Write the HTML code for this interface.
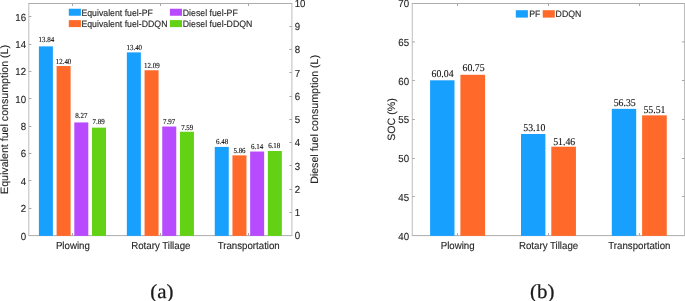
<!DOCTYPE html>
<html><head><meta charset="utf-8"><title>Figure</title>
<style>
html,body{margin:0;padding:0;background:#fff;}
body{width:685px;height:301px;overflow:hidden;font-family:"Liberation Sans",sans-serif;}
svg{display:block;text-rendering:geometricPrecision;will-change:transform;}
</style></head><body>
<svg width="685" height="301" viewBox="0 0 685 301">
<rect width="685" height="301" fill="#ffffff"/>
<path d="M28.3 3.5H292.4M28.3 235.6H292.4" fill="none" stroke="#adadad" stroke-width="1.0"/>
<path d="M28.8 3.5V235.6M291.9 3.5V235.6" fill="none" stroke="#bcbcbc" stroke-width="1.0"/>
<path d="M72.5 235.6v-2.6M72.5 3.5v2.6M160.5 235.6v-2.6M160.5 3.5v2.6M248.5 235.6v-2.6M248.5 3.5v2.6M28.8 208.5h2.6M28.8 180.5h2.6M28.8 153.5h2.6M28.8 126.5h2.6M28.8 98.5h2.6M28.8 71.5h2.6M28.8 44.5h2.6M28.8 16.5h2.6M291.9 212.5h-2.6M291.9 189.5h-2.6M291.9 165.5h-2.6M291.9 142.5h-2.6M291.9 119.5h-2.6M291.9 96.5h-2.6M291.9 72.5h-2.6M291.9 49.5h-2.6M291.9 26.5h-2.6" fill="none" stroke="#a8a8a8" stroke-width="1.0"/>
<rect x="38.90" y="46.36" width="14.00" height="189.54" fill="#18a0ff"/>
<rect x="56.60" y="66.03" width="14.00" height="169.87" fill="#ff6a2a"/>
<rect x="74.30" y="122.44" width="14.00" height="113.46" fill="#b84aff"/>
<rect x="92.00" y="127.63" width="14.00" height="108.27" fill="#64d214"/>
<rect x="126.85" y="52.37" width="14.00" height="183.53" fill="#18a0ff"/>
<rect x="144.55" y="70.26" width="14.00" height="165.64" fill="#ff6a2a"/>
<rect x="162.25" y="126.54" width="14.00" height="109.36" fill="#b84aff"/>
<rect x="179.95" y="131.73" width="14.00" height="104.17" fill="#64d214"/>
<rect x="214.75" y="146.89" width="14.00" height="89.01" fill="#18a0ff"/>
<rect x="232.45" y="155.36" width="14.00" height="80.54" fill="#ff6a2a"/>
<rect x="250.15" y="151.53" width="14.00" height="84.37" fill="#b84aff"/>
<rect x="267.85" y="150.99" width="14.00" height="84.91" fill="#64d214"/>
<text transform="translate(46.3 41.70) scale(1 1.1)" font-family="Liberation Serif, serif" font-size="6.95" text-anchor="middle" fill="#111111" stroke="#111111" stroke-width="0.12">13.84</text>
<text transform="translate(63.5 63.90) scale(1 1.1)" font-family="Liberation Serif, serif" font-size="6.95" text-anchor="middle" fill="#111111" stroke="#111111" stroke-width="0.12">12.40</text>
<text transform="translate(81.4 118.40) scale(1 1.1)" font-family="Liberation Serif, serif" font-size="6.95" text-anchor="middle" fill="#111111" stroke="#111111" stroke-width="0.12">8.27</text>
<text transform="translate(98.6 124.10) scale(1 1.1)" font-family="Liberation Serif, serif" font-size="6.95" text-anchor="middle" fill="#111111" stroke="#111111" stroke-width="0.12">7.89</text>
<text transform="translate(134.25 49.90) scale(1 1.1)" font-family="Liberation Serif, serif" font-size="6.95" text-anchor="middle" fill="#111111" stroke="#111111" stroke-width="0.12">13.40</text>
<text transform="translate(151.8 67.90) scale(1 1.1)" font-family="Liberation Serif, serif" font-size="6.95" text-anchor="middle" fill="#111111" stroke="#111111" stroke-width="0.12">12.09</text>
<text transform="translate(169.1 124.10) scale(1 1.1)" font-family="Liberation Serif, serif" font-size="6.95" text-anchor="middle" fill="#111111" stroke="#111111" stroke-width="0.12">7.97</text>
<text transform="translate(187.2 130.00) scale(1 1.1)" font-family="Liberation Serif, serif" font-size="6.95" text-anchor="middle" fill="#111111" stroke="#111111" stroke-width="0.12">7.59</text>
<text transform="translate(222.15 144.00) scale(1 1.1)" font-family="Liberation Serif, serif" font-size="6.95" text-anchor="middle" fill="#111111" stroke="#111111" stroke-width="0.12">6.48</text>
<text transform="translate(239.5 152.80) scale(1 1.1)" font-family="Liberation Serif, serif" font-size="6.95" text-anchor="middle" fill="#111111" stroke="#111111" stroke-width="0.12">5.86</text>
<text transform="translate(257.1 149.00) scale(1 1.1)" font-family="Liberation Serif, serif" font-size="6.95" text-anchor="middle" fill="#111111" stroke="#111111" stroke-width="0.12">6.14</text>
<text transform="translate(274.2 148.30) scale(1 1.1)" font-family="Liberation Serif, serif" font-size="6.95" text-anchor="middle" fill="#111111" stroke="#111111" stroke-width="0.12">6.18</text>
<text transform="translate(26.05 239.85) scale(1 1.055)" font-family="Liberation Sans, sans-serif" stroke="#262626" stroke-width="0.12" font-size="9.7" text-anchor="end" fill="#262626">0</text>
<text transform="translate(26.05 211.93) scale(1 1.055)" font-family="Liberation Sans, sans-serif" stroke="#262626" stroke-width="0.12" font-size="9.7" text-anchor="end" fill="#262626">2</text>
<text transform="translate(26.05 184.61) scale(1 1.055)" font-family="Liberation Sans, sans-serif" stroke="#262626" stroke-width="0.12" font-size="9.7" text-anchor="end" fill="#262626">4</text>
<text transform="translate(26.05 157.30) scale(1 1.055)" font-family="Liberation Sans, sans-serif" stroke="#262626" stroke-width="0.12" font-size="9.7" text-anchor="end" fill="#262626">6</text>
<text transform="translate(26.05 129.98) scale(1 1.055)" font-family="Liberation Sans, sans-serif" stroke="#262626" stroke-width="0.12" font-size="9.7" text-anchor="end" fill="#262626">8</text>
<text transform="translate(26.05 102.66) scale(1 1.055)" font-family="Liberation Sans, sans-serif" stroke="#262626" stroke-width="0.12" font-size="9.7" text-anchor="end" fill="#262626">10</text>
<text transform="translate(26.05 75.34) scale(1 1.055)" font-family="Liberation Sans, sans-serif" stroke="#262626" stroke-width="0.12" font-size="9.7" text-anchor="end" fill="#262626">12</text>
<text transform="translate(26.05 48.03) scale(1 1.055)" font-family="Liberation Sans, sans-serif" stroke="#262626" stroke-width="0.12" font-size="9.7" text-anchor="end" fill="#262626">14</text>
<text transform="translate(26.05 20.71) scale(1 1.055)" font-family="Liberation Sans, sans-serif" stroke="#262626" stroke-width="0.12" font-size="9.7" text-anchor="end" fill="#262626">16</text>
<text transform="translate(294.7 239.45) scale(1 1.055)" font-family="Liberation Sans, sans-serif" stroke="#262626" stroke-width="0.12" font-size="9.7" fill="#262626">0</text>
<text transform="translate(294.7 216.23) scale(1 1.055)" font-family="Liberation Sans, sans-serif" stroke="#262626" stroke-width="0.12" font-size="9.7" fill="#262626">1</text>
<text transform="translate(294.7 193.01) scale(1 1.055)" font-family="Liberation Sans, sans-serif" stroke="#262626" stroke-width="0.12" font-size="9.7" fill="#262626">2</text>
<text transform="translate(294.7 169.79) scale(1 1.055)" font-family="Liberation Sans, sans-serif" stroke="#262626" stroke-width="0.12" font-size="9.7" fill="#262626">3</text>
<text transform="translate(294.7 146.42) scale(1 1.055)" font-family="Liberation Sans, sans-serif" stroke="#262626" stroke-width="0.12" font-size="9.7" fill="#262626">4</text>
<text transform="translate(294.7 123.20) scale(1 1.055)" font-family="Liberation Sans, sans-serif" stroke="#262626" stroke-width="0.12" font-size="9.7" fill="#262626">5</text>
<text transform="translate(294.7 99.98) scale(1 1.055)" font-family="Liberation Sans, sans-serif" stroke="#262626" stroke-width="0.12" font-size="9.7" fill="#262626">6</text>
<text transform="translate(294.7 76.56) scale(1 1.055)" font-family="Liberation Sans, sans-serif" stroke="#262626" stroke-width="0.12" font-size="9.7" fill="#262626">7</text>
<text transform="translate(294.7 53.24) scale(1 1.055)" font-family="Liberation Sans, sans-serif" stroke="#262626" stroke-width="0.12" font-size="9.7" fill="#262626">8</text>
<text transform="translate(294.7 30.02) scale(1 1.055)" font-family="Liberation Sans, sans-serif" stroke="#262626" stroke-width="0.12" font-size="9.7" fill="#262626">9</text>
<text transform="translate(294.7 6.80) scale(1 1.055)" font-family="Liberation Sans, sans-serif" stroke="#262626" stroke-width="0.12" font-size="9.7" fill="#262626">10</text>
<text transform="translate(72.85000000000001 248.6) scale(1 1.055)" font-family="Liberation Sans, sans-serif" stroke="#262626" stroke-width="0.12" font-size="9.7" text-anchor="middle" fill="#262626">Plowing</text>
<text transform="translate(160.8 248.6) scale(1 1.055)" font-family="Liberation Sans, sans-serif" stroke="#262626" stroke-width="0.12" font-size="9.7" text-anchor="middle" fill="#262626">Rotary Tillage</text>
<text transform="translate(248.70000000000002 248.6) scale(1 1.055)" font-family="Liberation Sans, sans-serif" stroke="#262626" stroke-width="0.12" font-size="9.7" text-anchor="middle" fill="#262626">Transportation</text>
<text transform="translate(8.3 119.4) rotate(-90)" font-family="Liberation Sans, sans-serif" stroke="#262626" stroke-width="0.12" font-size="10.65" text-anchor="middle" fill="#262626">Equivalent fuel consumption (L)</text>
<text transform="translate(317.85 119.4) rotate(-90)" font-family="Liberation Sans, sans-serif" stroke="#262626" stroke-width="0.12" font-size="10.65" text-anchor="middle" fill="#262626">Diesel fuel consumption (L)</text>
<rect x="68.8" y="8.75" width="12.1" height="7.0" fill="#18a0ff"/>
<text transform="translate(81.4 15.60) scale(1 1.055)" font-family="Liberation Sans, sans-serif" stroke="#262626" stroke-width="0.12" font-size="8.75" fill="#262626">Equivalent fuel-PF</text>
<rect x="68.8" y="20.1" width="12.1" height="7.0" fill="#ff6a2a"/>
<text transform="translate(81.4 26.95) scale(1 1.055)" font-family="Liberation Sans, sans-serif" stroke="#262626" stroke-width="0.12" font-size="8.75" fill="#262626">Equivalent fuel-DDQN</text>
<rect x="169.9" y="8.75" width="12.1" height="7.0" fill="#b84aff"/>
<text transform="translate(182.8 15.60) scale(1 1.055)" font-family="Liberation Sans, sans-serif" stroke="#262626" stroke-width="0.12" font-size="8.75" fill="#262626">Diesel fuel-PF</text>
<rect x="169.9" y="20.1" width="12.1" height="7.0" fill="#64d214"/>
<text transform="translate(182.8 26.95) scale(1 1.055)" font-family="Liberation Sans, sans-serif" stroke="#262626" stroke-width="0.12" font-size="8.75" fill="#262626">Diesel fuel-DDQN</text>
<path d="M411.75 3.5H685.0M411.75 235.6H685.0" fill="none" stroke="#adadad" stroke-width="1.0"/>
<path d="M412.25 3.5V235.6M684.5 3.5V235.6" fill="none" stroke="#bcbcbc" stroke-width="1.0"/>
<path d="M457.5 235.6v-2.6M457.5 3.5v2.6M548.5 235.6v-2.6M548.5 3.5v2.6M639.5 235.6v-2.6M639.5 3.5v2.6M412.25 196.5h2.6M684.5 196.5h-2.6M412.25 158.5h2.6M684.5 158.5h-2.6M412.25 119.5h2.6M684.5 119.5h-2.6M412.25 80.5h2.6M684.5 80.5h-2.6M412.25 41.9h2.6M684.5 41.9h-2.6" fill="none" stroke="#a8a8a8" stroke-width="1.0"/>
<rect x="430.10" y="80.29" width="24.40" height="155.61" fill="#18a0ff"/>
<rect x="460.40" y="74.79" width="24.65" height="161.11" fill="#ff6a2a"/>
<rect x="521.00" y="134.01" width="24.40" height="101.89" fill="#18a0ff"/>
<rect x="551.30" y="146.70" width="24.65" height="89.20" fill="#ff6a2a"/>
<rect x="611.80" y="108.85" width="24.40" height="127.05" fill="#18a0ff"/>
<rect x="642.10" y="115.35" width="24.65" height="120.55" fill="#ff6a2a"/>
<text transform="translate(442.5 77.05) scale(1 1.06)" font-family="Liberation Serif, serif" font-size="9.8" text-anchor="middle" fill="#111111" stroke="#111111" stroke-width="0.1">60.04</text>
<text transform="translate(473.5 70.95) scale(1 1.06)" font-family="Liberation Serif, serif" font-size="9.8" text-anchor="middle" fill="#111111" stroke="#111111" stroke-width="0.1">60.75</text>
<text transform="translate(534.3 130.65) scale(1 1.06)" font-family="Liberation Serif, serif" font-size="9.8" text-anchor="middle" fill="#111111" stroke="#111111" stroke-width="0.1">53.10</text>
<text transform="translate(564.2 144.75) scale(1 1.06)" font-family="Liberation Serif, serif" font-size="9.8" text-anchor="middle" fill="#111111" stroke="#111111" stroke-width="0.1">51.46</text>
<text transform="translate(624.65 106.15) scale(1 1.06)" font-family="Liberation Serif, serif" font-size="9.8" text-anchor="middle" fill="#111111" stroke="#111111" stroke-width="0.1">56.35</text>
<text transform="translate(654.45 112.65) scale(1 1.06)" font-family="Liberation Serif, serif" font-size="9.8" text-anchor="middle" fill="#111111" stroke="#111111" stroke-width="0.1">55.51</text>
<text transform="translate(409.1 239.60) scale(1 1.055)" font-family="Liberation Sans, sans-serif" stroke="#262626" stroke-width="0.12" font-size="9.7" text-anchor="end" fill="#262626">40</text>
<text transform="translate(409.1 200.60) scale(1 1.055)" font-family="Liberation Sans, sans-serif" stroke="#262626" stroke-width="0.12" font-size="9.7" text-anchor="end" fill="#262626">45</text>
<text transform="translate(409.1 161.90) scale(1 1.055)" font-family="Liberation Sans, sans-serif" stroke="#262626" stroke-width="0.12" font-size="9.7" text-anchor="end" fill="#262626">50</text>
<text transform="translate(409.1 123.15) scale(1 1.055)" font-family="Liberation Sans, sans-serif" stroke="#262626" stroke-width="0.12" font-size="9.7" text-anchor="end" fill="#262626">55</text>
<text transform="translate(409.1 84.70) scale(1 1.055)" font-family="Liberation Sans, sans-serif" stroke="#262626" stroke-width="0.12" font-size="9.7" text-anchor="end" fill="#262626">60</text>
<text transform="translate(409.1 45.70) scale(1 1.055)" font-family="Liberation Sans, sans-serif" stroke="#262626" stroke-width="0.12" font-size="9.7" text-anchor="end" fill="#262626">65</text>
<text transform="translate(409.1 6.80) scale(1 1.055)" font-family="Liberation Sans, sans-serif" stroke="#262626" stroke-width="0.12" font-size="9.7" text-anchor="end" fill="#262626">70</text>
<text transform="translate(457.65 248.6) scale(1 1.055)" font-family="Liberation Sans, sans-serif" stroke="#262626" stroke-width="0.12" font-size="9.7" text-anchor="middle" fill="#262626">Plowing</text>
<text transform="translate(548.55 248.6) scale(1 1.055)" font-family="Liberation Sans, sans-serif" stroke="#262626" stroke-width="0.12" font-size="9.7" text-anchor="middle" fill="#262626">Rotary Tillage</text>
<text transform="translate(639.35 248.6) scale(1 1.055)" font-family="Liberation Sans, sans-serif" stroke="#262626" stroke-width="0.12" font-size="9.7" text-anchor="middle" fill="#262626">Transportation</text>
<text transform="translate(395.2 119.5) rotate(-90)" font-family="Liberation Sans, sans-serif" stroke="#262626" stroke-width="0.12" font-size="10.65" text-anchor="middle" fill="#262626">SOC (%)</text>
<rect x="515.8" y="10.2" width="12.1" height="7.4" fill="#18a0ff"/>
<text transform="translate(529.2 17.2) scale(1 1.055)" font-family="Liberation Sans, sans-serif" stroke="#262626" stroke-width="0.12" font-size="8.75" fill="#262626">PF</text>
<rect x="542.7" y="10.2" width="12.1" height="7.4" fill="#ff6a2a"/>
<text transform="translate(555.6 17.2) scale(1 1.055)" font-family="Liberation Sans, sans-serif" stroke="#262626" stroke-width="0.12" font-size="8.75" fill="#262626">DDQN</text>
<text transform="translate(161.95 297.75) scale(1.045 1)" font-family="Liberation Serif, serif" font-size="20" text-anchor="middle" fill="#1a1a1a" stroke="#1a1a1a" stroke-width="0.25">(a)</text>
<text transform="translate(542.3 297.75) scale(1.045 1)" font-family="Liberation Serif, serif" font-size="20" text-anchor="middle" fill="#1a1a1a" stroke="#1a1a1a" stroke-width="0.25">(b)</text>
</svg>
</body></html>
